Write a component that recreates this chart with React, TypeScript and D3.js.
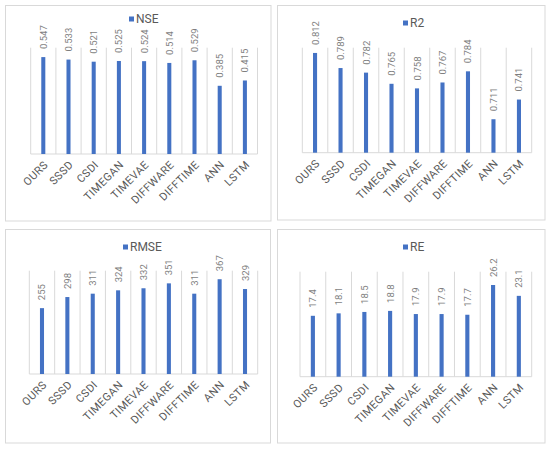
import React from "react";
import * as d3 from "d3";

const categories = ["OURS", "SSSD", "CSDI", "TIMEGAN", "TIMEVAE", "DIFFWARE", "DIFFTIME", "ANN", "LSTM"];
const nseValues = [0.547, 0.533, 0.521, 0.525, 0.524, 0.514, 0.529, 0.385, 0.415];
const r2Values = [0.812, 0.789, 0.782, 0.765, 0.758, 0.767, 0.784, 0.711, 0.741];
const rmseValues = [255, 298, 311, 324, 332, 351, 311, 367, 329];
const reValues = [17.4, 18.1, 18.5, 18.8, 17.9, 17.9, 17.7, 26.2, 23.1];

const BLUE = "#4472C4";
const GRID = "#d9d9d9";
const FONT = "Roboto, 'Noto Sans', sans-serif";

type PanelProps = {
  name: string;
  values: number[];
  domain: [number, number];
  fmt: string;
  box: [number, number, number, number];
  plot: [number, number, number, number];
  legendX: number;
  legendY: number;
};

function Panel({ name, values, domain, fmt, box, plot, legendX, legendY }: PanelProps) {
  const [bx0, by0, bx1, by1] = box;
  const [px0, py0, px1, py1] = plot;
  const x = d3.scaleBand<string>().domain(categories).range([px0, px1]).paddingInner(0).paddingOuter(0);
  const y = d3.scaleLinear().domain(domain).range([py1, py0]);
  const f = d3.format(fmt);
  const bw = x.bandwidth() * 0.16;
  const bounds = categories.map((c) => x(c) as number).concat([px1]);
  return (
    <g>
      <rect x={bx0} y={by0} width={bx1 - bx0} height={by1 - by0} fill="#fff" stroke={GRID} strokeWidth={1} />
      {bounds.map((b, i) => (
        <line key={i} x1={b} x2={b} y1={py0} y2={py1} stroke={GRID} strokeWidth={1} />
      ))}
      <line x1={px0} x2={px1} y1={py1} y2={py1} stroke={GRID} strokeWidth={1} />
      {categories.map((c, i) => {
        const cx = (x(c) as number) + x.bandwidth() / 2;
        const top = y(values[i]);
        return (
          <g key={c}>
            <rect x={cx - bw / 2} y={top} width={bw} height={py1 - top} fill={BLUE} />
            <text
              transform={`translate(${cx},${top - 8}) rotate(-90)`}
              fontSize={9.5}
              fill="#7f7f7f"
              fontFamily={FONT}
              dominantBaseline="central"
            >
              {f(values[i])}
            </text>
            <text
              transform={`translate(${cx + 3},${py1 + 9}) rotate(-45)`}
              fontSize={11}
              fill="#595959"
              fontFamily={FONT}
              letterSpacing={0.4}
              textAnchor="end"
              dominantBaseline="central"
            >
              {c}
            </text>
          </g>
        );
      })}
      <rect x={legendX} y={legendY - 2.5} width={5} height={5} fill={BLUE} />
      <text x={legendX + 7} y={legendY} fontSize={12} fill="#595959" fontFamily={FONT} dominantBaseline="central">
        {name}
      </text>
    </g>
  );
}

export default function App() {
  return (
    <svg width={550} height={449} style={{ position: "absolute", left: 0, top: 0 }}>
      <rect x={0} y={0} width={550} height={449} fill="#fff" />
      <Panel name="NSE" values={nseValues} domain={[0, 0.6]} fmt=".3f" box={[5.5, 5.5, 271, 221]} plot={[30.7, 47.7, 257.5, 154]} legendX={129} legendY={19} />
      <Panel name="R2" values={r2Values} domain={[0.66, 0.82]} fmt=".3f" box={[277.5, 5.5, 545, 220]} plot={[302.3, 47.7, 531.7, 152.7]} legendX={403} legendY={23} />
      <Panel name="RMSE" values={rmseValues} domain={[0, 400]} fmt="d" box={[5.5, 229.5, 270.5, 443]} plot={[29.3, 270.7, 257.7, 374]} legendX={123} legendY={247} />
      <Panel name="RE" values={reValues} domain={[0, 30]} fmt=".1f" box={[277.5, 229.5, 545, 443]} plot={[300, 271.7, 531.7, 376.7]} legendX={403} legendY={247} />
    </svg>
  );
}
